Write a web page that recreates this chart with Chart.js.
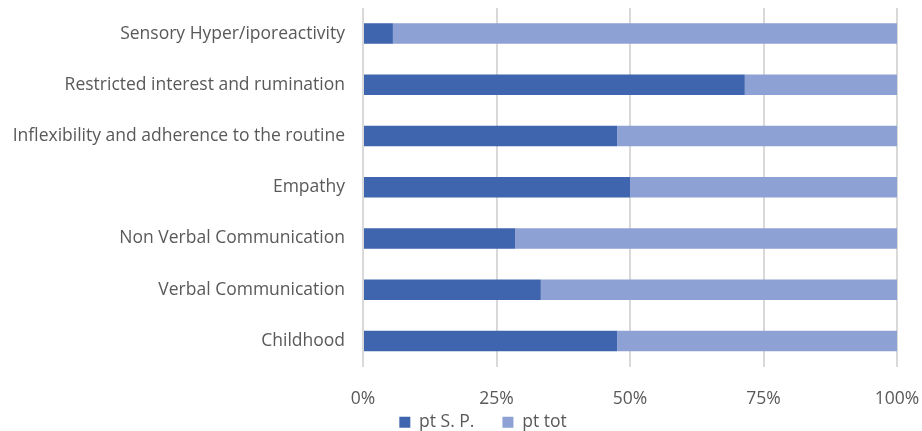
<!DOCTYPE html>
<html>
<head>
<meta charset="utf-8">
<script src="https://cdn.jsdelivr.net/npm/chart.js@4"></script>
<style>
html,body{margin:0;padding:0;background:#fff;}
#wrap{width:922px;height:431px;}
</style>
</head>
<body>
<div id="wrap"><canvas id="c" width="922" height="431"></canvas></div>
<script>
const categories = [
  "Sensory Hyper/iporeactivity",
  "Restricted interest and rumination",
  "Inflexibility and adherence to the routine",
  "Empathy",
  "Non Verbal Communication",
  "Verbal Communication",
  "Childhood"
];
const ptSP = [5.6, 71.5, 47.6, 50.0, 28.5, 33.3, 47.6];
const ptTot = [94.4, 28.5, 52.4, 50.0, 71.5, 66.7, 52.4];
const xTicks = ["0%", "25%", "50%", "75%", "100%"];

const FONT = "'Open Sans', sans-serif";
const FS = 17.5;
Chart.defaults.font.family = FONT;
Chart.defaults.color = "#595959";

new Chart(document.getElementById("c"), {
  type: "bar",
  data: {
    labels: categories,
    datasets: [
      { label: "pt S. P.", data: ptSP, backgroundColor: "#3F65AE", borderWidth: 0, barPercentage: 0.4, categoryPercentage: 1 },
      { label: "pt tot", data: ptTot, backgroundColor: "#8EA1D4", borderWidth: 0, barPercentage: 0.4, categoryPercentage: 1 }
    ]
  },
  options: {
    indexAxis: "y",
    responsive: false,
    animation: false,
    layout: { padding: { left: 69, right: 25, top: 8, bottom: -10 } },
    plugins: {
      legend: {
        position: "bottom",
        labels: { boxWidth: 11, boxHeight: 11, font: { size: FS }, color: "#595959", padding: 28 }
      },
      tooltip: { enabled: false }
    },
    scales: {
      x: {
        stacked: true,
        min: 0, max: 100,
        border: { display: false },
        grid: { color: "#d9d9d9", lineWidth: 2, drawTicks: false },
        afterFit(s) {
          s.paddingLeft = 0; s.paddingRight = 0; s.height = 19;
          s._computeLabelArea = () => undefined;
        },
        ticks: {
          stepSize: 25,
          padding: 22,
          font: { size: FS },
          color: "#595959",
          callback: (v, i) => xTicks[i]
        }
      },
      y: {
        stacked: true,
        border: { display: false },
        grid: { display: false, drawTicks: false },
        afterFit(s) {
          s.paddingTop = 0; s.paddingBottom = 0; s.width = 294;
          s._computeLabelArea = () => undefined;
        },
        ticks: { padding: 18, font: { size: FS }, color: "#595959" }
      }
    }
  }
});
</script>
</body>
</html>
